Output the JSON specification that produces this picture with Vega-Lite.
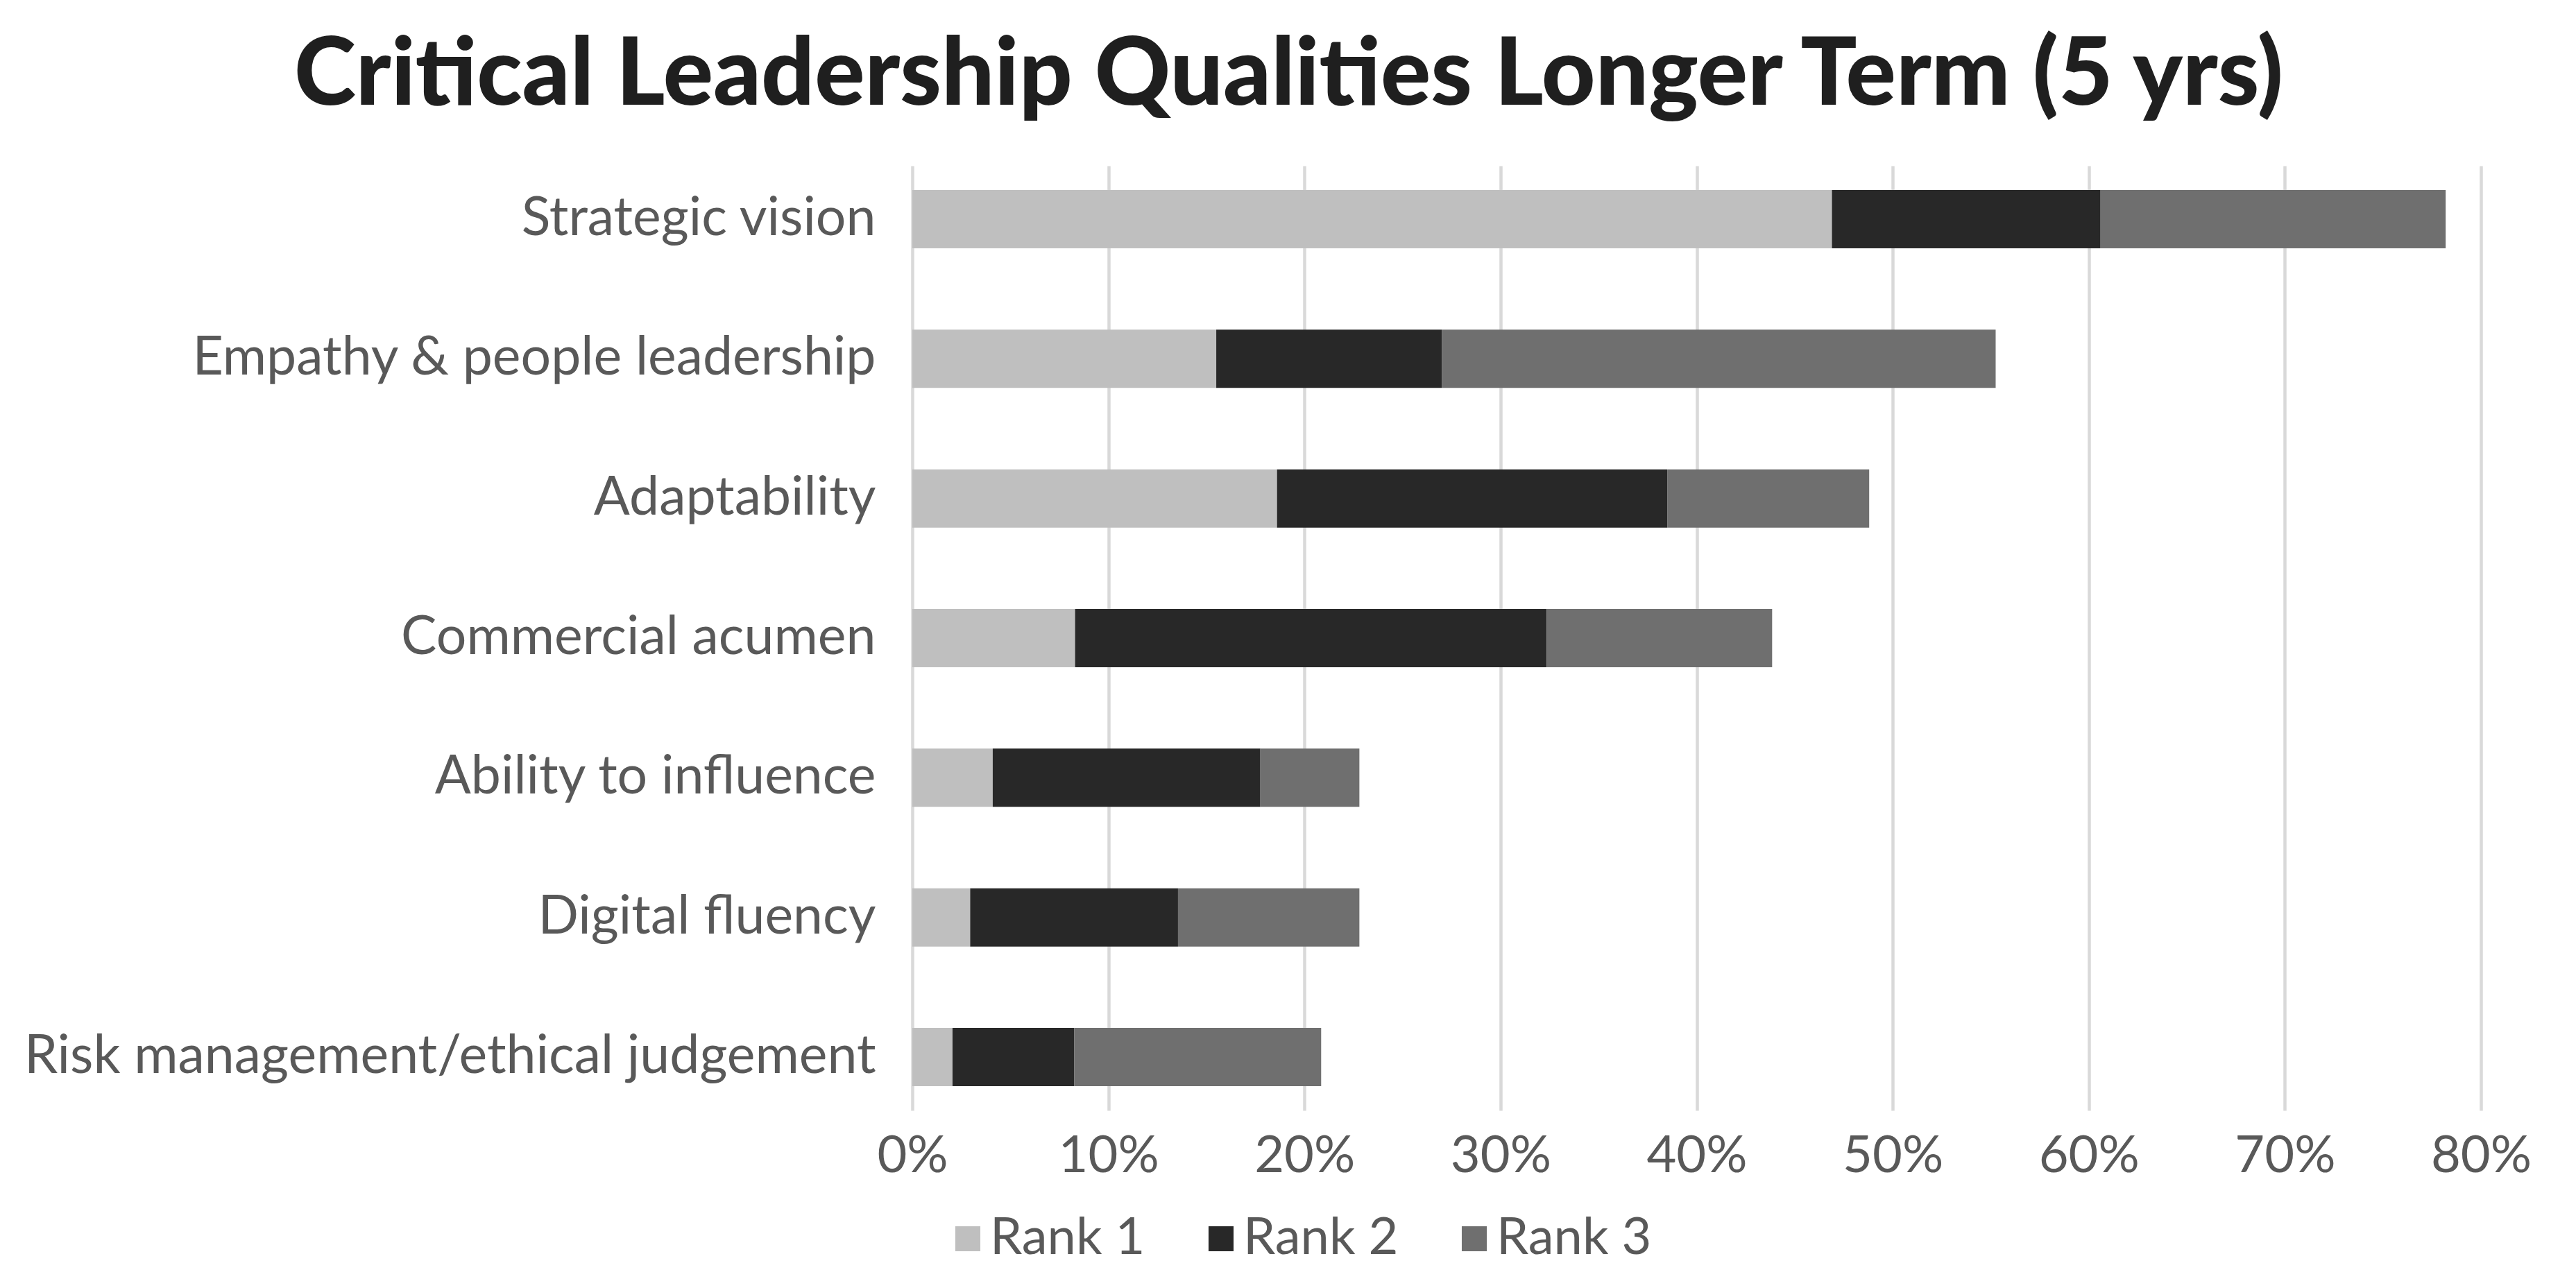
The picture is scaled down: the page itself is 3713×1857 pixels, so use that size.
{
  "$schema": "https://vega.github.io/schema/vega-lite/v6.json",
  "width": 2261,
  "height": 1362,
  "autosize": {"type": "none"},
  "padding": {"left": 1315, "top": 239, "right": 137, "bottom": 256},
  "background": "white",
  "title": {
    "text": "Critical Leadership Qualities Longer Term (5 yrs)",
    "font": "Lato",
    "fontWeight": 900,
    "fontSize": 135,
    "color": "#1f1f1f",
    "anchor": "middle",
    "frame": "group",
    "dx": -588,
    "offset": 60
  },
  "data": {
    "values": [
      {"quality": "Strategic vision", "rank": "Rank 1", "value": 0.469},
      {"quality": "Strategic vision", "rank": "Rank 2", "value": 0.137},
      {"quality": "Strategic vision", "rank": "Rank 3", "value": 0.176},
      {"quality": "Empathy & people leadership", "rank": "Rank 1", "value": 0.155},
      {"quality": "Empathy & people leadership", "rank": "Rank 2", "value": 0.115},
      {"quality": "Empathy & people leadership", "rank": "Rank 3", "value": 0.2825},
      {"quality": "Adaptability", "rank": "Rank 1", "value": 0.186},
      {"quality": "Adaptability", "rank": "Rank 2", "value": 0.199},
      {"quality": "Adaptability", "rank": "Rank 3", "value": 0.103},
      {"quality": "Commercial acumen", "rank": "Rank 1", "value": 0.083},
      {"quality": "Commercial acumen", "rank": "Rank 2", "value": 0.2405},
      {"quality": "Commercial acumen", "rank": "Rank 3", "value": 0.115},
      {"quality": "Ability to influence", "rank": "Rank 1", "value": 0.041},
      {"quality": "Ability to influence", "rank": "Rank 2", "value": 0.1365},
      {"quality": "Ability to influence", "rank": "Rank 3", "value": 0.0505},
      {"quality": "Digital fluency", "rank": "Rank 1", "value": 0.0295},
      {"quality": "Digital fluency", "rank": "Rank 2", "value": 0.106},
      {"quality": "Digital fluency", "rank": "Rank 3", "value": 0.0925},
      {"quality": "Risk management/ethical judgement", "rank": "Rank 1", "value": 0.0205},
      {"quality": "Risk management/ethical judgement", "rank": "Rank 2", "value": 0.062},
      {"quality": "Risk management/ethical judgement", "rank": "Rank 3", "value": 0.126}
    ]
  },
  "mark": {"type": "bar"},
  "encoding": {
    "y": {
      "field": "quality",
      "type": "nominal",
      "sort": null,
      "scale": {"paddingInner": 0.583, "paddingOuter": 0.174},
      "axis": {
        "title": null,
        "domain": false,
        "ticks": false,
        "labelFont": "Lato",
        "labelFontSize": 77,
        "labelColor": "#595959",
        "labelPadding": 53,
        "labelLimit": 1400
      }
    },
    "x": {
      "field": "value",
      "type": "quantitative",
      "stack": "zero",
      "scale": {"domain": [0, 0.8], "nice": false},
      "axis": {
        "title": null,
        "format": ".0%",
        "values": [0, 0.1, 0.2, 0.3, 0.4, 0.5, 0.6, 0.7, 0.8],
        "domain": false,
        "ticks": false,
        "grid": true,
        "gridColor": "#d9d9d9",
        "gridWidth": 4.5,
        "labelFont": "Lato",
        "labelFontSize": 74,
        "labelColor": "#595959",
        "labelPadding": 30,
        "labelFlush": false
      }
    },
    "color": {
      "field": "rank",
      "type": "nominal",
      "scale": {"domain": ["Rank 1", "Rank 2", "Rank 3"], "range": ["#bfbfbf", "#282828", "#6f6f6f"]},
      "legend": {
        "title": null,
        "orient": "none",
        "direction": "horizontal",
        "legendX": 43,
        "legendY": 1510,
        "padding": 0,
        "symbolType": "square",
        "symbolSize": 1300,
        "symbolStrokeWidth": 0,
        "symbolOpacity": 1,
        "labelFont": "Lato",
        "labelFontSize": 74,
        "labelColor": "#595959",
        "labelOffset": -5,
        "labelLimit": 500,
        "columnPadding": 72
      }
    },
    "order": {"field": "rank", "type": "nominal", "sort": "ascending"}
  },
  "config": {"view": {"stroke": null}}
}
